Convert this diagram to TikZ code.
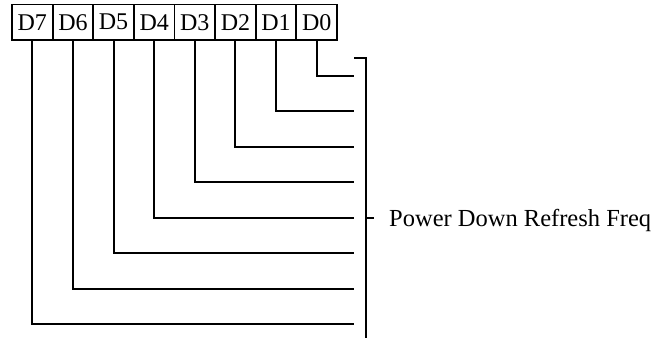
\documentclass[tikz,border=0pt]{standalone}
\usepackage{fontspec}
\setmainfont{Liberation Serif}
\begin{document}
\begin{tikzpicture}[x=1pt,y=1pt,
  wire/.style={line width=2pt},
  cell/.style={draw,line width=1.8pt,minimum width=40.625pt,minimum height=35.5pt,inner sep=0pt,font=\fontsize{24}{28}\selectfont},
  lbl/.style={font=\fontsize{24.5}{29}\selectfont,inner sep=0pt,anchor=base west}]
\useasboundingbox (0,0) rectangle (671,-339);
\foreach \i in {0,...,7}{
  \node[cell] (d\i) at ({12+(7-\i+0.5)*40.625},-22.25) {D\i};
}
\foreach \i in {0,...,7}{
  \coordinate (e\i) at (354,{-(76+\i*35.43)});
  \draw[wire] (d\i.south) |- (e\i);
}
\coordinate (bt) at (354,-58);
\coordinate (bb) at (366,-338);
\draw[wire] (bt) -| (bb);
\coordinate (tk) at (366,-218);
\coordinate (tke) at (374,-218);
\draw[wire] (tk) -- (tke);
\node[lbl] (lab) at (389,-226) {Power Down Refresh Freq};
\end{tikzpicture}
\end{document}
